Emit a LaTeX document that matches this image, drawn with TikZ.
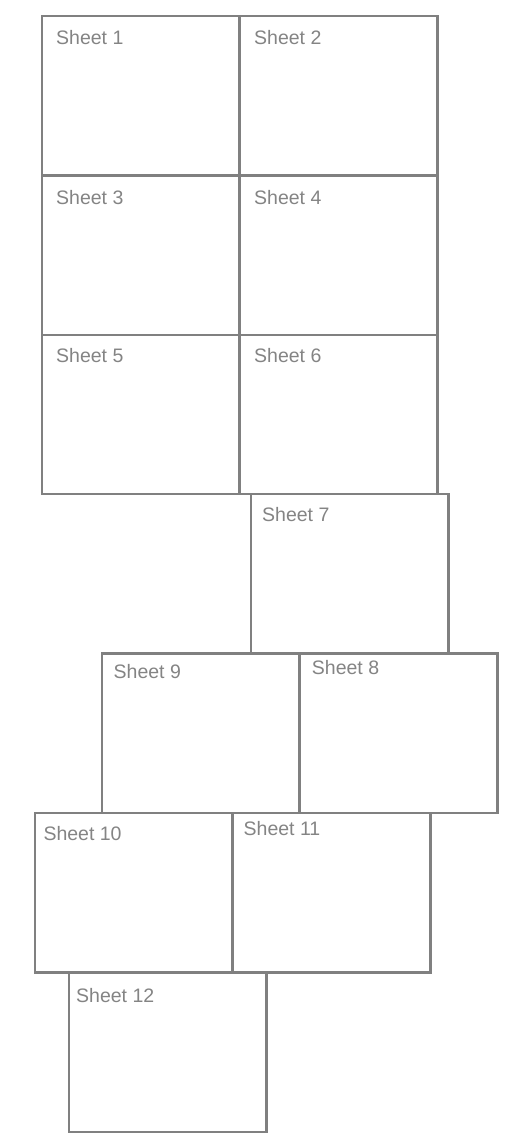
\documentclass[tikz,border=0pt]{standalone}
\usepackage{fontspec}
\setmainfont{Liberation Sans}
\usepackage{tikz}
\usetikzlibrary{positioning,calc}
\definecolor{sheetline}{RGB}{128,128,128}
\definecolor{sheettext}{RGB}{132,132,132}

\begin{document}
\begin{tikzpicture}[x=1pt,y=-1pt,
  sheet/.style={draw=sheetline,line width=2.3pt,fill=white,anchor=north west,outer sep=0pt,inner sep=0pt,minimum width=197.5pt,minimum height=159.4pt},
  sheetlabel/.style={anchor=base west,inner sep=0pt,text=sheettext,font=\fontsize{19.5}{23}\selectfont}
]
  \useasboundingbox (0,0) rectangle (508,1135);
  % name / left edge / row / label shift
  \foreach \n/\x/\r/\dx/\dy in {1/42/0/14/28.5, 2/240/0/14/28.5, 3/42/1/14/28.6, 4/240/1/14/28.6,
      5/42/2/14/27.5, 6/240/2/14/27.5, 7/251/3/11/27, 9/102/4/11.5/25,
      8/300/4/11.7/21.3, 10/35/5/8.3/27.7, 11/233/5/10.5/22.3, 12/69/6/7/29.6} {
    \node[sheet] (s\n) at (\x,{16+159.4*\r}) {};
    \node[sheetlabel] (t\n) at ([shift={(\dx pt,-\dy pt)}]s\n.north west) {Sheet \n};
  }
\end{tikzpicture}
\end{document}
